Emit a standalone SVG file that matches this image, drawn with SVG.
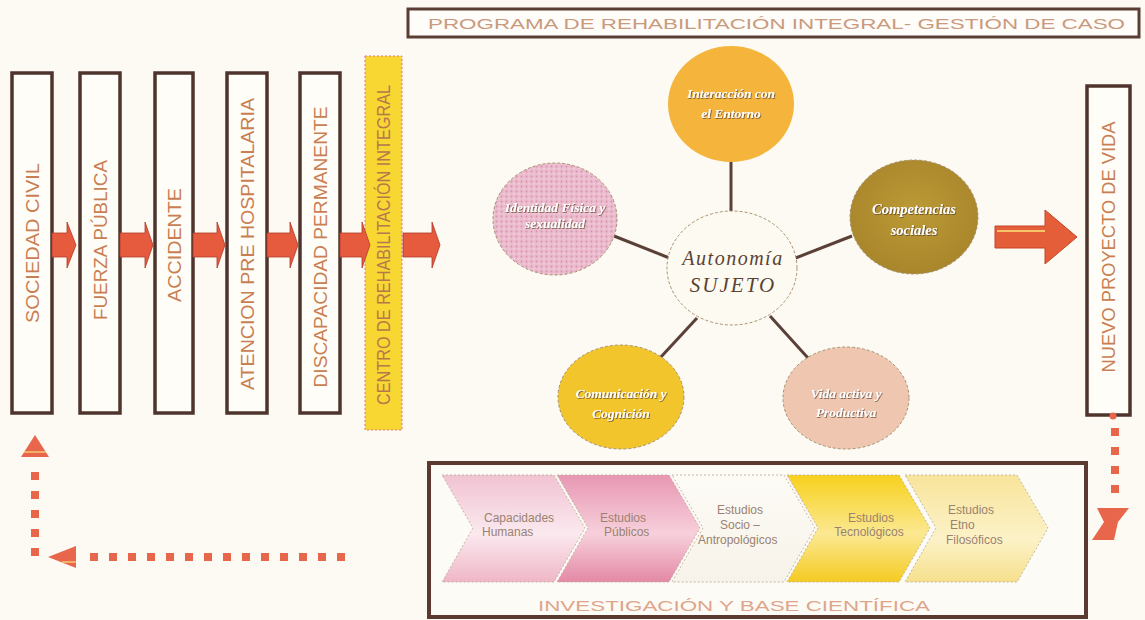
<svg xmlns="http://www.w3.org/2000/svg" width="1145" height="620" viewBox="0 0 1145 620">
  <defs>
    <style>
      .vbox { fill: #fffdf8; stroke: #4e342c; stroke-width: 3.5; }
      .vlabel { font-family: "Liberation Sans", Arial, sans-serif; font-size: 17.5px; fill: #c97f52; text-anchor: middle; dominant-baseline: central; }
      .flow { fill: #e65a3e; stroke: #b03a28; stroke-width: 0.8; }
      .spoke { stroke: #5a4038; stroke-width: 3; fill: none; }
      .ring { stroke: #a89070; stroke-width: 1; stroke-dasharray: 3 2; }
      .clabel { font-family: "Liberation Serif", "Times New Roman", serif; font-size: 13.5px; font-weight: bold; font-style: italic; fill: #ffffff; text-anchor: middle; filter: url(#emboss); }
      .chev { stroke: #bfae9c; stroke-width: 0.9; stroke-dasharray: 2 2; }
      .chlabel { font-family: "Liberation Sans", Arial, sans-serif; font-size: 12px; fill: #9a8270; }
      .dots { stroke: #e8674c; stroke-width: 8; stroke-dasharray: 8 11; fill: none; }
      .tip { fill: #e8674c; }
      .tipline { stroke: #f6c870; stroke-width: 1.5; }
    </style>
    <filter id="emboss" x="-10%" y="-30%" width="120%" height="160%">
      <feDropShadow dx="0.8" dy="0.8" stdDeviation="0.4" flood-color="#5a3a20" flood-opacity="0.85"/>
    </filter>
    <pattern id="stipple" width="5" height="5" patternUnits="userSpaceOnUse">
      <rect width="5" height="5" fill="#ebbccd"/>
      <circle cx="1.5" cy="1.5" r="0.9" fill="#d890ab"/>
      <circle cx="4" cy="3.8" r="0.7" fill="#f6dbe5"/>
    </pattern>
    <radialGradient id="gOlive" cx="50%" cy="45%" r="60%">
      <stop offset="0" stop-color="#bc9a36"/>
      <stop offset="1" stop-color="#a7842a"/>
    </radialGradient>
    <linearGradient id="gPink1" x1="0" y1="0" x2="0" y2="1">
      <stop offset="0" stop-color="#f1c3d2"/>
      <stop offset="0.55" stop-color="#fbe9ef"/>
      <stop offset="1" stop-color="#efb6c7"/>
    </linearGradient>
    <linearGradient id="gPink2" x1="0" y1="0" x2="0" y2="1">
      <stop offset="0" stop-color="#e897b2"/>
      <stop offset="0.55" stop-color="#f7d0dc"/>
      <stop offset="1" stop-color="#e488a6"/>
    </linearGradient>
    <linearGradient id="gWhite" x1="0" y1="0" x2="0" y2="1">
      <stop offset="0" stop-color="#fdfbf6"/>
      <stop offset="1" stop-color="#f7f3ea"/>
    </linearGradient>
    <linearGradient id="gYellow" x1="0" y1="0" x2="0" y2="1">
      <stop offset="0" stop-color="#f7d11c"/>
      <stop offset="0.55" stop-color="#fbe892"/>
      <stop offset="1" stop-color="#f4cb22"/>
    </linearGradient>
    <linearGradient id="gPale" x1="0" y1="0" x2="0" y2="1">
      <stop offset="0" stop-color="#f8e49a"/>
      <stop offset="0.6" stop-color="#fcf2c8"/>
      <stop offset="1" stop-color="#f6e08c"/>
    </linearGradient>
  </defs>

  <!-- paper -->
  <rect width="1145" height="620" fill="#fcfaf3"/>

  <!-- title banner -->
  <g id="title">
    <rect x="408" y="9" width="731" height="28" fill="#fffdf9" stroke="#5a3e34" stroke-width="3"/>
    <text x="428" y="29" font-family="Liberation Sans, Arial, sans-serif" font-size="14.5" fill="#c99a7e" textLength="697" lengthAdjust="spacingAndGlyphs">PROGRAMA DE REHABILITACIÓN INTEGRAL- GESTIÓN DE CASO</text>
  </g>

  <!-- process column boxes -->
  <g id="sociedad-civil">
    <rect class="vbox" x="12" y="73" width="40" height="340"/>
    <text class="vlabel" transform="translate(33,243) rotate(-90)" textLength="160" lengthAdjust="spacingAndGlyphs">SOCIEDAD CIVIL</text>
  </g>
  <g id="fuerza-publica">
    <rect class="vbox" x="80" y="73" width="40" height="340"/>
    <text class="vlabel" transform="translate(101,240) rotate(-90)" textLength="160" lengthAdjust="spacingAndGlyphs">FUERZA PÚBLICA</text>
  </g>
  <g id="accidente">
    <rect class="vbox" x="155" y="73" width="38" height="340"/>
    <text class="vlabel" transform="translate(175,245) rotate(-90)" textLength="114" lengthAdjust="spacingAndGlyphs">ACCIDENTE</text>
  </g>
  <g id="atencion">
    <rect class="vbox" x="227" y="73" width="40" height="340"/>
    <text class="vlabel" transform="translate(248,244) rotate(-90)" textLength="292" lengthAdjust="spacingAndGlyphs">ATENCION PRE HOSPITALARIA</text>
  </g>
  <g id="discapacidad">
    <rect class="vbox" x="300" y="73" width="40" height="340"/>
    <text class="vlabel" transform="translate(321,247) rotate(-90)" textLength="281" lengthAdjust="spacingAndGlyphs">DISCAPACIDAD PERMANENTE</text>
  </g>
  <g id="centro">
    <rect x="365" y="56" width="37" height="374" fill="#f8d733" stroke="#e07a78" stroke-width="1" stroke-dasharray="2 2"/>
    <text class="vlabel" transform="translate(384,245) rotate(-90)" style="fill:#b7774c" textLength="320" lengthAdjust="spacingAndGlyphs">CENTRO DE REHABILITACIÓN INTEGRAL</text>
  </g>
  <g id="nuevo-proyecto">
    <rect class="vbox" x="1087" y="86" width="43" height="329"/>
    <text class="vlabel" transform="translate(1109,247) rotate(-90)" textLength="251" lengthAdjust="spacingAndGlyphs">NUEVO PROYECTO DE VIDA</text>
  </g>

  <!-- hub and spokes -->
  <g id="spokes">
    <line class="spoke" x1="731" y1="158" x2="731" y2="212"/>
    <line class="spoke" x1="614" y1="236" x2="672" y2="259"/>
    <line class="spoke" x1="852" y1="236" x2="793" y2="259"/>
    <line class="spoke" x1="697" y1="318" x2="660" y2="358"/>
    <line class="spoke" x1="770" y1="316" x2="808" y2="358"/>
  </g>

  <g id="interaccion">
    <ellipse cx="731" cy="104" rx="63" ry="58" fill="#f5b43c"/>
    <text class="clabel" x="731" y="98">Interacción con</text>
    <text class="clabel" x="731" y="118">el Entorno</text>
  </g>
  <g id="identidad">
    <ellipse class="ring" cx="555" cy="219" rx="62" ry="56" fill="url(#stipple)"/>
    <text class="clabel" x="555" y="212">Identidad Física y</text>
    <text class="clabel" x="555" y="228">sexualidad</text>
  </g>
  <g id="competencias">
    <ellipse class="ring" cx="914" cy="217" rx="64" ry="57" fill="url(#gOlive)"/>
    <text class="clabel" x="914" y="214" style="font-size:14.5px">Competencias</text>
    <text class="clabel" x="914" y="235" style="font-size:14.5px">sociales</text>
  </g>
  <g id="autonomia">
    <ellipse class="ring" cx="732" cy="268" rx="65" ry="57" fill="#fdfaf1"/>
    <text x="733" y="265" font-family="Liberation Serif, Times New Roman, serif" font-size="20" font-style="italic" fill="#5a4234" text-anchor="middle" letter-spacing="1.5">Autonomía</text>
    <text x="733" y="292" font-family="Liberation Serif, Times New Roman, serif" font-size="21" font-style="italic" fill="#5a4234" text-anchor="middle" letter-spacing="2">SUJETO</text>
  </g>
  <g id="comunicacion">
    <ellipse class="ring" cx="621" cy="397" rx="63" ry="52" fill="#f3c52c"/>
    <text class="clabel" x="621" y="398">Comunicación y</text>
    <text class="clabel" x="621" y="418">Cognición</text>
  </g>
  <g id="vida-activa">
    <ellipse class="ring" cx="846" cy="398" rx="63" ry="51" fill="#efc7b1"/>
    <text class="clabel" x="846" y="398">Vida activa y</text>
    <text class="clabel" x="846" y="417">Productiva</text>
  </g>

  <!-- research panel -->
  <g id="investigacion">
    <rect x="429" y="463" width="657" height="154" fill="#fdfbf5" stroke="#5a3a30" stroke-width="4"/>
    <polygon class="chev" points="442,475 554,475 585,528 554,582 442,582 473,528" fill="url(#gPink1)"/>
    <polygon class="chev" points="557,475 669,475 700,528 669,582 557,582 588,528" fill="url(#gPink2)"/>
    <polygon class="chev" points="672,475 784,475 815,528 784,582 672,582 703,528" fill="url(#gWhite)"/>
    <polygon class="chev" points="787,475 899,475 930,528 899,582 787,582 818,528" fill="url(#gYellow)"/>
    <polygon class="chev" points="905,475 1017,475 1048,528 1017,582 905,582 936,528" fill="url(#gPale)"/>
    <text class="chlabel" x="484" y="522">Capacidades</text>
    <text class="chlabel" x="482" y="536">Humanas</text>
    <text class="chlabel" x="600" y="522">Estudios</text>
    <text class="chlabel" x="604" y="536">Públicos</text>
    <text class="chlabel" x="717" y="514">Estudios</text>
    <text class="chlabel" x="720" y="529">Socio –</text>
    <text class="chlabel" x="698" y="544">Antropológicos</text>
    <text class="chlabel" x="871" y="522" text-anchor="middle">Estudios</text>
    <text class="chlabel" x="869" y="536" text-anchor="middle">Tecnológicos</text>
    <text class="chlabel" x="948" y="514">Estudios</text>
    <text class="chlabel" x="950" y="529">Etno</text>
    <text class="chlabel" x="946" y="544">Filosóficos</text>
    <text x="538" y="611" font-family="Liberation Sans, Arial, sans-serif" font-size="15" fill="#dea58c" textLength="392" lengthAdjust="spacingAndGlyphs">INVESTIGACIÓN Y BASE CIENTÍFICA</text>
  </g>

  <!-- connectors -->
  <g id="connectors">
    <!-- block arrows along the chain -->
    <polygon class="flow" points="52,233 67,233 67,222 76,245 67,268 67,257 52,257"/>
    <polygon class="flow" points="120,233 145,233 145,222 153,245 145,268 145,257 120,257"/>
    <polygon class="flow" points="193,233 217,233 217,222 225,245 217,268 217,257 193,257"/>
    <polygon class="flow" points="267,233 290,233 290,222 298,245 290,268 290,257 267,257"/>
    <polygon class="flow" points="340,233 362,233 362,222 370,245 362,268 362,257 340,257"/>
    <polygon class="flow" points="403,233 432,233 432,222 440,245 432,268 432,257 403,257"/>

    <!-- arrow into the life project -->
    <polygon points="995,226 1045,226 1045,210 1077,237 1045,264 1045,248 995,248" fill="#e55e3a" stroke="#c5442a" stroke-width="1"/>
    <line x1="997" y1="231" x2="1045" y2="231" stroke="#f7c46a" stroke-width="2"/>

    <!-- return path: right side down to the research panel -->
    <circle cx="1113" cy="416" r="3.5" fill="#e8674c"/>
    <path class="dots" d="M1115,428 V500"/>
    <polygon class="tip" points="1097,508 1129,508 1118,522 1114,540 1092,540 1104,522"/>

    <!-- feedback path back to the start of the chain -->
    <path class="dots" d="M345,557 H80"/>
    <polygon class="tip" points="48,557 76,546 76,568"/>
    <line class="tipline" x1="62" y1="562" x2="76" y2="562"/>
    <path class="dots" d="M35,556 V462"/>
    <polygon class="tip" points="35,435 49,457 21,457"/>
    <line class="tipline" x1="24" y1="452" x2="46" y2="452"/>
  </g>
</svg>
